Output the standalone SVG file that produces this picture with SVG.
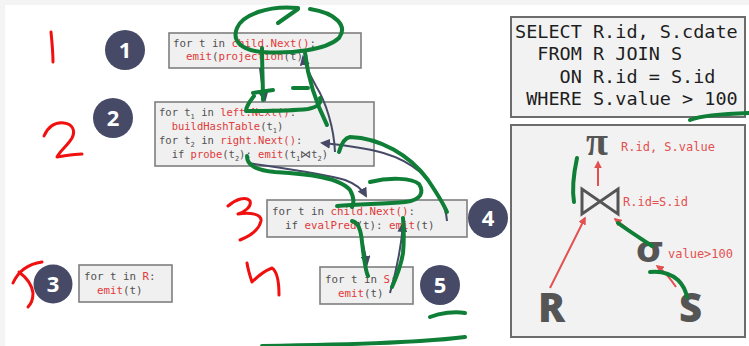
<svg xmlns="http://www.w3.org/2000/svg" width="749" height="346" viewBox="0 0 749 346">
  <defs>
    <marker id="navyHead" viewBox="0 0 10 10" refX="8" refY="5" markerWidth="5" markerHeight="5" orient="auto">
      <path d="M0,0 L10,5 L0,10 Z" fill="#474a66"/>
    </marker>
    <marker id="redHead" viewBox="0 0 10 10" refX="8" refY="5" markerWidth="4" markerHeight="4" orient="auto">
      <path d="M0,0 L10,5 L0,10 Z" fill="#e25050"/>
    </marker>
  </defs>
  <style>
    .code { font-family: "DejaVu Sans Mono", "Liberation Mono", monospace; font-size: 10.8px; fill: #505050; white-space: pre; }
    .code2 { font-size: 10.5px; }
    .kw { fill: #e03a3a; }
    .sub { font-size: 7px; }
    .box { fill: #f0f0f0; stroke: #7f7f7f; stroke-width: 1.6; }
    .panel { fill: #f2f2f2; stroke: #6c6c6c; stroke-width: 2; }
    .badge { fill: #474a66; }
    .badgeNum { font-family: "Open Sans", "DejaVu Sans", sans-serif; font-weight: 700; font-size: 22px; fill: #ffffff; text-anchor: middle; }
    .sql { font-family: "DejaVu Sans Mono", "Liberation Mono", monospace; font-size: 18.5px; fill: #1e1e1e; white-space: pre; }
    .lbl { font-family: "DejaVu Sans Mono", "Liberation Mono", monospace; font-size: 12px; fill: #e25050; }
    .op { fill: #555555; }
    .rel { font-family: "Open Sans", "DejaVu Sans", sans-serif; font-weight: 800; font-size: 40px; fill: #555555; }
    .conn { fill: none; stroke: #474a66; stroke-width: 2; marker-end: url(#navyHead); }
    .tarrow { fill: none; stroke: #e25050; stroke-width: 2; marker-end: url(#redHead); }
    .ink-g { fill: none; stroke: #0f7e36; stroke-width: 4; stroke-linecap: round; stroke-linejoin: round; }
    .ink-r { fill: none; stroke: #f01010; stroke-width: 3; stroke-linecap: round; stroke-linejoin: round; }
  </style>

  <!-- page -->
  <rect x="0" y="0" width="749" height="346" fill="#f4f4f4"/>
  <rect x="5" y="5" width="744" height="341" fill="#ffffff"/>

  <!-- operator: projection -->
  <g id="op-projection">
    <circle class="badge" cx="125" cy="50" r="20"/>
    <text class="badgeNum" x="125" y="58">1</text>
    <rect class="box" x="169" y="33" width="192" height="35"/>
    <text class="code" x="173" y="47">for t in <tspan class="kw">child.Next()</tspan>:</text>
    <text class="code" x="173" y="60">  <tspan class="kw">emit</tspan>(<tspan class="kw">projection</tspan>(t))</text>
  </g>

  <!-- operator: hash join -->
  <g id="op-join">
    <circle class="badge" cx="113" cy="118" r="20"/>
    <text class="badgeNum" x="113" y="126">2</text>
    <rect class="box" x="155" y="102" width="219" height="64"/>
    <text class="code code2" x="159" y="116">for t<tspan class="sub" dy="3">1</tspan><tspan dy="-3"> in </tspan><tspan class="kw">left.Next()</tspan>:</text>
    <text class="code code2" x="159" y="130">  <tspan class="kw">buildHashTable</tspan>(t<tspan class="sub" dy="3">1</tspan><tspan dy="-3">)</tspan></text>
    <text class="code code2" x="159" y="144">for t<tspan class="sub" dy="3">2</tspan><tspan dy="-3"> in </tspan><tspan class="kw">right.Next()</tspan>:</text>
    <text class="code code2" x="159" y="158">  if <tspan class="kw">probe</tspan>(t<tspan class="sub" dy="3">2</tspan><tspan dy="-3">): </tspan><tspan class="kw">emit</tspan>(t<tspan class="sub" dy="3">1</tspan><tspan dy="-3">⋈t</tspan><tspan class="sub" dy="3">2</tspan><tspan dy="-3">)</tspan></text>
  </g>

  <!-- operator: selection -->
  <g id="op-filter">
    <circle class="badge" cx="488" cy="218" r="20"/>
    <text class="badgeNum" x="488" y="226">4</text>
    <rect class="box" x="267" y="200" width="200" height="37"/>
    <text class="code" x="272" y="215">for t in <tspan class="kw">child.Next()</tspan>:</text>
    <text class="code" x="272" y="229">  if <tspan class="kw">evalPred</tspan>(t): <tspan class="kw">emit</tspan>(t)</text>
  </g>

  <!-- scan R -->
  <g id="scan-r">
    <circle class="badge" cx="53" cy="284" r="19.5"/>
    <text class="badgeNum" x="53" y="292">3</text>
    <rect class="box" x="79" y="265" width="93" height="37"/>
    <text class="code" x="84" y="280">for t in <tspan class="kw">R</tspan>:</text>
    <text class="code" x="84" y="294">  <tspan class="kw">emit</tspan>(t)</text>
  </g>

  <!-- scan S -->
  <g id="scan-s">
    <circle class="badge" cx="440" cy="285" r="20"/>
    <text class="badgeNum" x="440" y="293">5</text>
    <rect class="box" x="320" y="267" width="93" height="37"/>
    <text class="code" x="325" y="283">for t in <tspan class="kw">S</tspan>:</text>
    <text class="code" x="325" y="297">  <tspan class="kw">emit</tspan>(t)</text>
  </g>

  <!-- control / data flow between operators -->
  <g id="connectors">
    <path class="conn" d="M260,68 Q262,86 265,100"/>
    <path class="conn" d="M335,152 C334,128 326,102 316,86 C310,75 305,66 303,57"/>
    <path class="conn" d="M248,163 C280,168 320,173 345,180 C356,184 362,189 366,196"/>
    <path class="conn" d="M447,221 C446,205 438,190 420,172 C400,155 375,148 322,143"/>
    <path class="conn" d="M358,222 C361,235 364,248 367,264"/>
    <path class="conn" d="M390,293 C396,272 401,250 403,224"/>
  </g>

  <!-- SQL query -->
  <g id="sql">
    <rect class="panel" x="511" y="17" width="234" height="100"/>
    <text class="sql" x="515" y="38">SELECT R.id, S.cdate</text>
    <text class="sql" x="515" y="60">  FROM R JOIN S</text>
    <text class="sql" x="515" y="83">    ON R.id = S.id</text>
    <text class="sql" x="515" y="105"> WHERE S.value &gt; 100</text>
  </g>

  <!-- relational algebra tree -->
  <g id="plan">
    <rect class="panel" x="511" y="125" width="234" height="212"/>
    <text class="op" x="586" y="155" font-family="Liberation Serif, serif" font-weight="700" font-size="40">π</text>
    <text class="lbl" x="621" y="151">R.id, S.value</text>
    <path d="M582,189 L582,214 L618,189 L618,214 Z" fill="none" stroke="#555555" stroke-width="3" stroke-linejoin="miter"/>
    <text class="lbl" x="623" y="206">R.id=S.id</text>
    <text class="op" x="636" y="262" font-family="DejaVu Sans, sans-serif" font-weight="700" font-size="36">σ</text>
    <text class="lbl" x="668" y="258">value&gt;100</text>
    <text class="rel" x="538" y="322">R</text>
    <text class="rel" x="679" y="322">S</text>
    <path class="tarrow" d="M598,186 L598,162"/>
    <path class="tarrow" d="M550,288 L585,218"/>
    <path class="tarrow" d="M642,240 L615,219"/>
    <path class="tarrow" d="M676,287 C670,278 664,271 657,266"/>
  </g>

  <!-- hand-drawn red marks -->
  <g id="ink-red">
    <path class="ink-r" d="M51,32 C52,42 53,52 53,62"/>
    <path class="ink-r" d="M44,136 C48,127 55,122 64,123 C72,124 76,130 72,138 C68,145 60,151 57,157 C65,156 74,154 82,154"/>
    <path class="ink-r" d="M228,206 C236,199 246,196 250,201 C252,207 244,212 238,214 C250,212 262,214 261,221 C259,230 250,236 240,240"/>
    <path class="ink-r" d="M247,263 C248,270 250,276 252,282 C258,276 264,271 272,268 C278,272 279,284 279,295"/>
    <path class="ink-r" d="M13,283 C18,272 28,264 42,262"/>
    <path class="ink-r" d="M19,272 C27,278 32,285 33,293 C33,299 31,304 28,307"/>
  </g>

  <!-- hand-drawn green marks -->
  <g id="ink-green">
    <path class="ink-g" d="M278,23 L298,9"/>
    <path class="ink-g" d="M298,8 C268,5 242,15 237,28 C232,40 240,50 262,52 C292,54 326,50 339,38 C348,26 336,13 310,9"/>
    <path class="ink-g" d="M262,48 C262,65 263,85 263,100"/>
    <path class="ink-g" d="M253,93 L273,90"/>
    <path class="ink-g" d="M254,96 C250,101 246,106 246,111 C262,111 290,111 308,109 C318,107 322,103 320,98"/>
    <path class="ink-g" d="M305,53 C307,70 312,95 327,125"/>
    <path class="ink-g" d="M293,88 L308,88"/>
    <path class="ink-g" d="M339,152 C341,145 344,138 350,137 C380,138 410,155 428,180 C438,195 444,205 447,212"/>
    <path class="ink-g" d="M247,156 C247,165 255,170 275,172 C310,174 340,178 350,190 C354,197 354,203 352,207"/>
    <path class="ink-g" d="M370,182 C390,177 412,178 419,184 C424,192 422,200 405,202 C385,204 360,204 337,206"/>
    <path class="ink-g" d="M352,221 C358,222 361,230 362,242 C364,258 365,270 368,276"/>
    <path class="ink-g" d="M403,218 C404,230 404,242 403,253 C401,266 396,278 392,287"/>
    <path class="ink-g" d="M430,317 C440,313 455,311 465,313"/>
    <path class="ink-g" d="M262,346 C330,345 420,343 465,337"/>
    <path class="ink-g" d="M690,120 C700,116 715,114 749,113"/>
    <path class="ink-g" d="M577,158 C574,172 572,190 574,202"/>
    <path class="ink-g" d="M618,223 C626,229 640,238 652,246"/>
    <path class="ink-g" d="M650,272 C660,271 670,273 678,280 C684,286 686,292 687,297"/>
  </g>
</svg>
